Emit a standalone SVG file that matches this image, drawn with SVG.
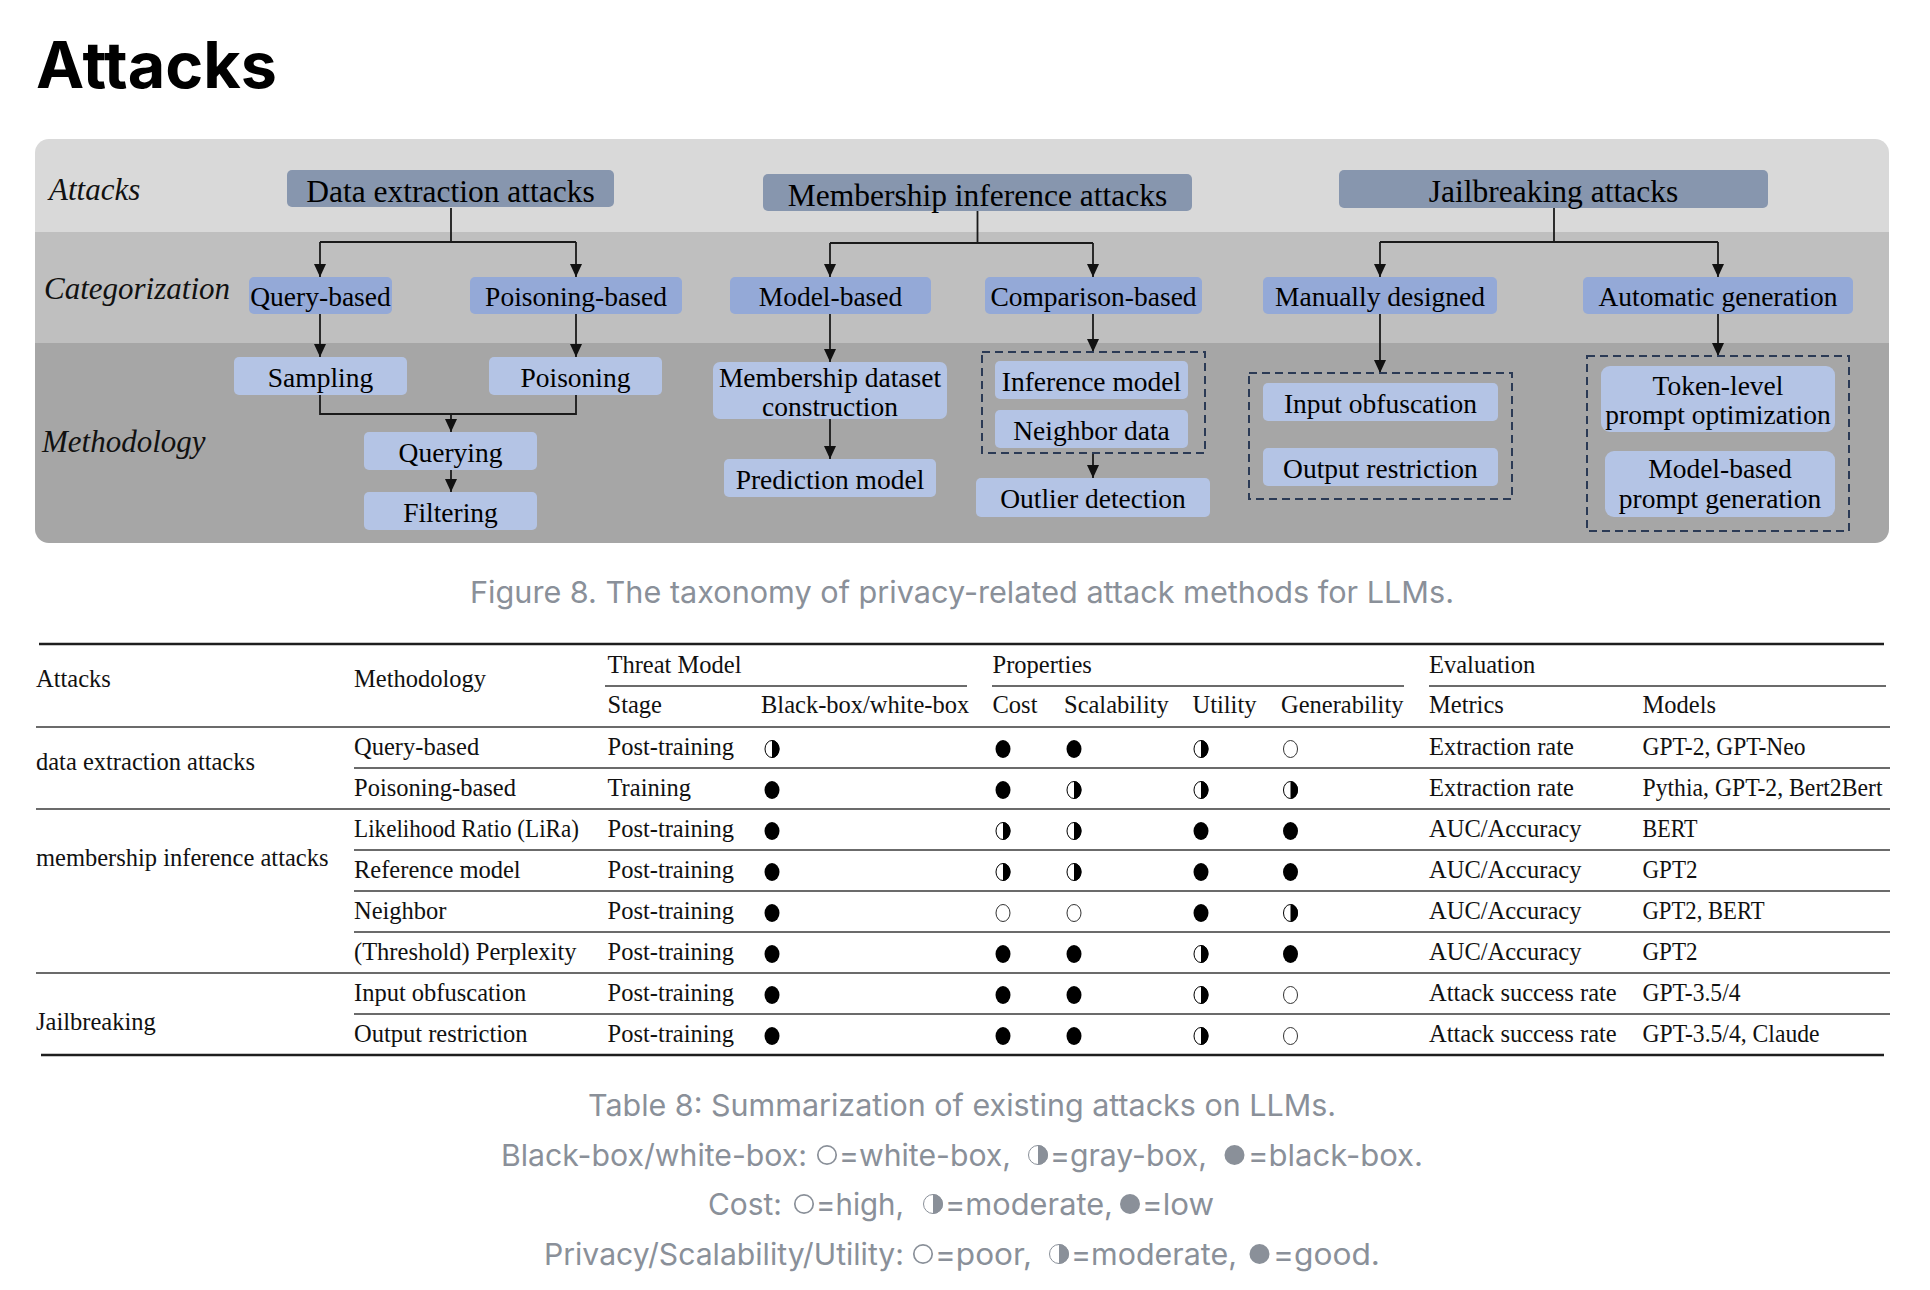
<svg xmlns="http://www.w3.org/2000/svg" width="1930" height="1290" viewBox="0 0 1930 1290">
<style>
.title{font-family:Inter,"Liberation Sans",sans-serif;font-weight:700;font-size:64px;fill:#000}
.lbl{font-family:"Liberation Serif","Times New Roman",serif;font-style:italic;font-size:31px;fill:#111}
.nt{font-family:"Liberation Serif","Times New Roman",serif;font-size:31.5px;fill:#000;text-anchor:middle}
.nc{font-family:"Liberation Serif","Times New Roman",serif;font-size:27.5px;fill:#000;text-anchor:middle}
.top{fill:#8796ae}
.cat{fill:#94a9d7}
.met{fill:#b4c4e5}
.dash{fill:none;stroke:#2b3a55;stroke-width:2;stroke-dasharray:8 5}
.ln{fill:none;stroke:#1a1a1a;stroke-width:1.8}
.cap{font-family:Inter,"Liberation Sans",sans-serif;font-size:30px;fill:#8a9099;text-anchor:middle}
.cs{font-family:Inter,"Liberation Sans",sans-serif;font-size:30px;fill:#8a9099}
.tt{font-family:"Liberation Serif","Times New Roman",serif;font-size:24.5px;fill:#111}
.rm{stroke:#6b6b6b;stroke-width:2}
.rb{stroke:#1e1e1e;stroke-width:2.5}
</style>
<defs>
<marker id="ah" markerUnits="userSpaceOnUse" markerWidth="13" markerHeight="12" refX="13" refY="6" orient="auto">
<path d="M0,0 L13,6 L0,12 z" fill="#111"/>
</marker>
<clipPath id="pc"><rect x="35" y="139" width="1854" height="404" rx="14"/></clipPath>
<g id="sf"><ellipse cx="0" cy="0" rx="7.5" ry="9" fill="#000"/></g>
<g id="sh"><ellipse cx="0" cy="0" rx="7" ry="8.5" fill="#fff" stroke="#000" stroke-width="1"/><path d="M0,-9 A7.5,9 0 0 1 0,9 Z" fill="#000"/></g>
<g id="se"><ellipse cx="0" cy="0" rx="7" ry="8.5" fill="#fff" stroke="#333" stroke-width="1"/></g>
<g id="cf"><circle cx="0" cy="0" r="10" fill="#8a9099"/></g>
<g id="ch"><circle cx="0" cy="0" r="9.5" fill="#fff" stroke="#8a9099" stroke-width="1"/><path d="M0,-10 A10,10 0 0 1 0,10 Z" fill="#8a9099"/></g>
<g id="ce"><circle cx="0" cy="0" r="9.2" fill="none" stroke="#8a9099" stroke-width="1.7"/></g>
</defs>
<rect width="1930" height="1290" fill="#fff"/>
<text class="title" x="36" y="88" textLength="241" lengthAdjust="spacingAndGlyphs">Attacks</text>

<g id="panel" clip-path="url(#pc)">
<rect x="35" y="139" width="1854" height="93" fill="#d9d9d9"/>
<rect x="35" y="232" width="1854" height="111" fill="#bfbfbf"/>
<rect x="35" y="343" width="1854" height="200" fill="#a6a6a6"/>
</g>
<g id="row-labels">
<text class="lbl" x="49" y="200">Attacks</text>
<text class="lbl" x="44" y="299">Categorization</text>
<text class="lbl" x="42" y="452">Methodology</text>
</g>

<g id="connectors">
<path class="ln" d="M451,208 V242 M320,242 H576"/>
<path class="ln" d="M320,242 V277" marker-end="url(#ah)"/>
<path class="ln" d="M576,242 V277" marker-end="url(#ah)"/>
<path class="ln" d="M320,314 V357" marker-end="url(#ah)"/>
<path class="ln" d="M576,314 V357" marker-end="url(#ah)"/>
<path class="ln" d="M320,395 V414 H576 V395"/>
<path class="ln" d="M451,414 V432" marker-end="url(#ah)"/>
<path class="ln" d="M451,470 V492" marker-end="url(#ah)"/>
<path class="ln" d="M977.5,211 V243 M830,243 H1093"/>
<path class="ln" d="M830,243 V277" marker-end="url(#ah)"/>
<path class="ln" d="M1093,243 V277" marker-end="url(#ah)"/>
<path class="ln" d="M830,314 V362" marker-end="url(#ah)"/>
<path class="ln" d="M830,419 V459" marker-end="url(#ah)"/>
<path class="ln" d="M1093,314 V352" marker-end="url(#ah)"/>
<path class="ln" d="M1093,453 V478" marker-end="url(#ah)"/>
<path class="ln" d="M1554,208 V242 M1380,242 H1718"/>
<path class="ln" d="M1380,242 V277" marker-end="url(#ah)"/>
<path class="ln" d="M1718,242 V277" marker-end="url(#ah)"/>
<path class="ln" d="M1380,314 V373" marker-end="url(#ah)"/>
<path class="ln" d="M1718,314 V356" marker-end="url(#ah)"/>
</g>

<g id="n-dea"><rect class="top" x="287" y="170" width="327" height="37" rx="5"/><text class="nt" x="450.5" y="202">Data extraction attacks</text></g>
<g id="n-mia"><rect class="top" x="763" y="174" width="429" height="37" rx="5"/><text class="nt" x="977.5" y="206">Membership inference attacks</text></g>
<g id="n-ja"><rect class="top" x="1339" y="170" width="429" height="38" rx="5"/><text class="nt" x="1553.5" y="202">Jailbreaking attacks</text></g>

<g id="n-query-based"><rect class="cat" x="249" y="277" width="143" height="37" rx="5"/><text class="nc" x="320.5" y="306">Query-based</text></g>
<g id="n-poisoning-based"><rect class="cat" x="470" y="277" width="212" height="37" rx="5"/><text class="nc" x="576" y="306">Poisoning-based</text></g>
<g id="n-model-based"><rect class="cat" x="730" y="277" width="201" height="37" rx="5"/><text class="nc" x="830.5" y="306">Model-based</text></g>
<g id="n-comparison-based"><rect class="cat" x="985" y="277" width="217" height="37" rx="5"/><text class="nc" x="1093.5" y="306">Comparison-based</text></g>
<g id="n-manually"><rect class="cat" x="1263" y="277" width="234" height="37" rx="5"/><text class="nc" x="1380" y="306">Manually designed</text></g>
<g id="n-automatic"><rect class="cat" x="1583" y="277" width="270" height="37" rx="5"/><text class="nc" x="1718" y="306">Automatic generation</text></g>

<g id="n-sampling"><rect class="met" x="234" y="357" width="173" height="38" rx="5"/><text class="nc" x="320.5" y="387">Sampling</text></g>
<g id="n-poisoning"><rect class="met" x="489" y="357" width="173" height="38" rx="5"/><text class="nc" x="575.5" y="387">Poisoning</text></g>
<g id="n-querying"><rect class="met" x="364" y="432" width="173" height="38" rx="5"/><text class="nc" x="450.5" y="461.5">Querying</text></g>
<g id="n-filtering"><rect class="met" x="364" y="492" width="173" height="38" rx="5"/><text class="nc" x="450.5" y="521.5">Filtering</text></g>
<g id="n-membership-dataset"><rect class="met" x="713" y="362" width="234" height="57" rx="7"/><text class="nc" x="830" y="387">Membership dataset</text><text class="nc" x="830" y="416">construction</text></g>
<g id="n-prediction"><rect class="met" x="724" y="459" width="212" height="38" rx="5"/><text class="nc" x="830" y="488.5">Prediction model</text></g>
<g id="g-comparison"><rect class="dash" x="982" y="352" width="223" height="101"/></g>
<g id="n-inference"><rect class="met" x="995" y="361" width="193" height="38" rx="5"/><text class="nc" x="1091.5" y="390.5">Inference model</text></g>
<g id="n-neighbor"><rect class="met" x="995" y="410" width="193" height="38" rx="5"/><text class="nc" x="1091.5" y="439.5">Neighbor data</text></g>
<g id="n-outlier"><rect class="met" x="976" y="478" width="234" height="39" rx="5"/><text class="nc" x="1093" y="508">Outlier detection</text></g>
<g id="g-manual"><rect class="dash" x="1249" y="373" width="263" height="126"/></g>
<g id="n-input"><rect class="met" x="1263" y="383" width="235" height="38" rx="5"/><text class="nc" x="1380.5" y="412.5">Input obfuscation</text></g>
<g id="n-output"><rect class="met" x="1263" y="448" width="235" height="38" rx="5"/><text class="nc" x="1380.5" y="477.5">Output restriction</text></g>
<g id="g-auto"><rect class="dash" x="1587" y="356" width="262" height="175"/></g>
<g id="n-token"><rect class="met" x="1601" y="366" width="234" height="66" rx="9"/><text class="nc" x="1718" y="395">Token-level</text><text class="nc" x="1718" y="424">prompt optimization</text></g>
<g id="n-modelprompt"><rect class="met" x="1605" y="451" width="230" height="66" rx="9"/><text class="nc" x="1720" y="478">Model-based</text><text class="nc" x="1720" y="508">prompt generation</text></g>

<text class="cap" x="962" y="603" textLength="984" lengthAdjust="spacingAndGlyphs">Figure 8. The taxonomy of privacy-related attack methods for LLMs.</text>

<g id="table">
<line class="rb" x1="39" y1="644" x2="1884" y2="644"/>
<line class="rm" x1="605" y1="686" x2="967" y2="686"/>
<line class="rm" x1="992" y1="686" x2="1404" y2="686"/>
<line class="rm" x1="1429" y1="686" x2="1886" y2="686"/>
<line class="rm" x1="36" y1="727" x2="1890" y2="727"/>
<line class="rm" x1="354" y1="768" x2="1890" y2="768"/>
<line class="rm" x1="36" y1="809" x2="1890" y2="809"/>
<line class="rm" x1="354" y1="850" x2="1890" y2="850"/>
<line class="rm" x1="354" y1="891" x2="1890" y2="891"/>
<line class="rm" x1="354" y1="932" x2="1890" y2="932"/>
<line class="rm" x1="36" y1="973" x2="1890" y2="973"/>
<line class="rm" x1="354" y1="1014" x2="1890" y2="1014"/>
<line class="rb" x1="41" y1="1055" x2="1884" y2="1055"/>

<text class="tt" x="36" y="687">Attacks</text>
<text class="tt" x="354" y="687">Methodology</text>
<text class="tt" x="607.5" y="673">Threat Model</text>
<text class="tt" x="992.5" y="673">Properties</text>
<text class="tt" x="1429" y="673">Evaluation</text>
<text class="tt" x="607.5" y="713">Stage</text>
<text class="tt" x="761" y="713">Black-box/white-box</text>
<text class="tt" x="992.5" y="713">Cost</text>
<text class="tt" x="1064" y="713">Scalability</text>
<text class="tt" x="1192.5" y="713">Utility</text>
<text class="tt" x="1281" y="713">Generability</text>
<text class="tt" x="1429" y="713">Metrics</text>
<text class="tt" x="1642.5" y="713">Models</text>

<text class="tt" x="36" y="770">data extraction attacks</text>
<text class="tt" x="36" y="866">membership inference attacks</text>
<text class="tt" x="36" y="1030">Jailbreaking</text>

<text class="tt" x="354" y="755">Query-based</text>
<text class="tt" x="354" y="796">Poisoning-based</text>
<text class="tt" x="354" y="837" textLength="225" lengthAdjust="spacingAndGlyphs">Likelihood Ratio (LiRa)</text>
<text class="tt" x="354" y="878">Reference model</text>
<text class="tt" x="354" y="919">Neighbor</text>
<text class="tt" x="354" y="960">(Threshold) Perplexity</text>
<text class="tt" x="354" y="1001">Input obfuscation</text>
<text class="tt" x="354" y="1042">Output restriction</text>

<text class="tt" x="607.5" y="755">Post-training</text>
<text class="tt" x="607.5" y="796">Training</text>
<text class="tt" x="607.5" y="837">Post-training</text>
<text class="tt" x="607.5" y="878">Post-training</text>
<text class="tt" x="607.5" y="919">Post-training</text>
<text class="tt" x="607.5" y="960">Post-training</text>
<text class="tt" x="607.5" y="1001">Post-training</text>
<text class="tt" x="607.5" y="1042">Post-training</text>

<text class="tt" x="1429" y="755">Extraction rate</text>
<text class="tt" x="1429" y="796">Extraction rate</text>
<text class="tt" x="1429" y="837">AUC/Accuracy</text>
<text class="tt" x="1429" y="878">AUC/Accuracy</text>
<text class="tt" x="1429" y="919">AUC/Accuracy</text>
<text class="tt" x="1429" y="960">AUC/Accuracy</text>
<text class="tt" x="1429" y="1001">Attack success rate</text>
<text class="tt" x="1429" y="1042">Attack success rate</text>

<text class="tt" x="1642.5" y="755" textLength="163" lengthAdjust="spacingAndGlyphs">GPT-2, GPT-Neo</text>
<text class="tt" x="1642.5" y="796" textLength="240" lengthAdjust="spacingAndGlyphs">Pythia, GPT-2, Bert2Bert</text>
<text class="tt" x="1642.5" y="837" textLength="55" lengthAdjust="spacingAndGlyphs">BERT</text>
<text class="tt" x="1642.5" y="878" textLength="55" lengthAdjust="spacingAndGlyphs">GPT2</text>
<text class="tt" x="1642.5" y="919" textLength="122" lengthAdjust="spacingAndGlyphs">GPT2, BERT</text>
<text class="tt" x="1642.5" y="960" textLength="55" lengthAdjust="spacingAndGlyphs">GPT2</text>
<text class="tt" x="1642.5" y="1001" textLength="98" lengthAdjust="spacingAndGlyphs">GPT-3.5/4</text>
<text class="tt" x="1642.5" y="1042" textLength="177" lengthAdjust="spacingAndGlyphs">GPT-3.5/4, Claude</text>

<use href="#sh" x="772" y="749"/><use href="#sf" x="1003" y="749"/><use href="#sf" x="1074" y="749"/><use href="#sh" x="1201" y="749"/><use href="#se" x="1290.5" y="749"/>
<use href="#sf" x="772" y="790"/><use href="#sf" x="1003" y="790"/><use href="#sh" x="1074" y="790"/><use href="#sh" x="1201" y="790"/><use href="#sh" x="1290.5" y="790"/>
<use href="#sf" x="772" y="831"/><use href="#sh" x="1003" y="831"/><use href="#sh" x="1074" y="831"/><use href="#sf" x="1201" y="831"/><use href="#sf" x="1290.5" y="831"/>
<use href="#sf" x="772" y="872"/><use href="#sh" x="1003" y="872"/><use href="#sh" x="1074" y="872"/><use href="#sf" x="1201" y="872"/><use href="#sf" x="1290.5" y="872"/>
<use href="#sf" x="772" y="913"/><use href="#se" x="1003" y="913"/><use href="#se" x="1074" y="913"/><use href="#sf" x="1201" y="913"/><use href="#sh" x="1290.5" y="913"/>
<use href="#sf" x="772" y="954"/><use href="#sf" x="1003" y="954"/><use href="#sf" x="1074" y="954"/><use href="#sh" x="1201" y="954"/><use href="#sf" x="1290.5" y="954"/>
<use href="#sf" x="772" y="995"/><use href="#sf" x="1003" y="995"/><use href="#sf" x="1074" y="995"/><use href="#sh" x="1201" y="995"/><use href="#se" x="1290.5" y="995"/>
<use href="#sf" x="772" y="1036"/><use href="#sf" x="1003" y="1036"/><use href="#sf" x="1074" y="1036"/><use href="#sh" x="1201" y="1036"/><use href="#se" x="1290.5" y="1036"/>
</g>

<g id="table-caption">
<text class="cap" x="962" y="1116" textLength="748" lengthAdjust="spacingAndGlyphs">Table 8: Summarization of existing attacks on LLMs.</text>
<text class="cs" x="501" y="1166" textLength="306" lengthAdjust="spacingAndGlyphs">Black-box/white-box:</text>
<use href="#ce" x="827" y="1155"/>
<text class="cs" x="839" y="1166" textLength="172" lengthAdjust="spacingAndGlyphs">=white-box,</text>
<use href="#ch" x="1038" y="1155"/>
<text class="cs" x="1050" y="1166" textLength="157" lengthAdjust="spacingAndGlyphs">=gray-box,</text>
<use href="#cf" x="1234.5" y="1155"/>
<text class="cs" x="1248" y="1166" textLength="175" lengthAdjust="spacingAndGlyphs">=black-box.</text>

<text class="cs" x="708" y="1215" textLength="74" lengthAdjust="spacingAndGlyphs">Cost:</text>
<use href="#ce" x="804" y="1204"/>
<text class="cs" x="816" y="1215" textLength="88" lengthAdjust="spacingAndGlyphs">=high,</text>
<use href="#ch" x="933" y="1204"/>
<text class="cs" x="945" y="1215" textLength="168" lengthAdjust="spacingAndGlyphs">=moderate,</text>
<use href="#cf" x="1130" y="1204"/>
<text class="cs" x="1142" y="1215" textLength="72" lengthAdjust="spacingAndGlyphs">=low</text>

<text class="cs" x="544" y="1265" textLength="360" lengthAdjust="spacingAndGlyphs">Privacy/Scalability/Utility:</text>
<use href="#ce" x="923" y="1254"/>
<text class="cs" x="935" y="1265" textLength="97" lengthAdjust="spacingAndGlyphs">=poor,</text>
<use href="#ch" x="1059" y="1254"/>
<text class="cs" x="1071" y="1265" textLength="166" lengthAdjust="spacingAndGlyphs">=moderate,</text>
<use href="#cf" x="1259.5" y="1254"/>
<text class="cs" x="1273" y="1265" textLength="107" lengthAdjust="spacingAndGlyphs">=good.</text>
</g>
</svg>
